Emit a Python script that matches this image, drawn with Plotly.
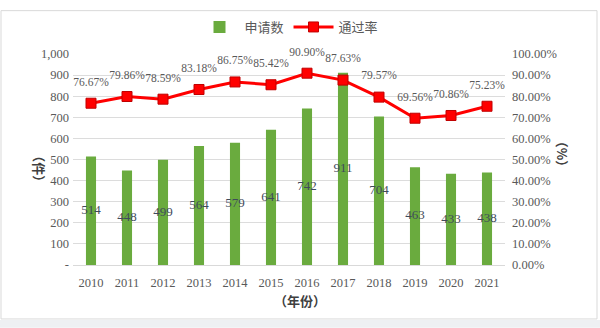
import plotly.graph_objects as go

years = ["2010", "2011", "2012", "2013", "2014", "2015", "2016", "2017", "2018", "2019", "2020", "2021"]
applications = [514, 448, 499, 564, 579, 641, 742, 911, 704, 463, 433, 438]
pass_rate = [76.67, 79.86, 78.59, 83.18, 86.75, 85.42, 90.90, 87.63, 79.57, 69.56, 70.86, 75.23]
left_ticks = [0, 100, 200, 300, 400, 500, 600, 700, 800, 900, 1000]
left_tick_text = ["-", "100", "200", "300", "400", "500", "600", "700", "800", "900", "1,000"]
right_ticks = [0, 10, 20, 30, 40, 50, 60, 70, 80, 90, 100]
right_tick_text = ["%.2f%%" % v for v in right_ticks]

SERIF = "Liberation Serif"
CJK = "Noto Sans CJK SC"
GRAY = "#595959"

fig = go.Figure()
fig.add_trace(go.Bar(
    x=years, y=applications, name="申请数",
    marker=dict(color="#6aab3e", line=dict(width=0)),
    yaxis="y", showlegend=True,
))
# value labels at bar centres
fig.add_trace(go.Scatter(
    x=years, y=[v / 2 for v in applications], mode="text",
    text=[str(v) for v in applications],
    textfont=dict(family=SERIF, size=13, color="#3f4b5b"),
    showlegend=False, hoverinfo="skip", yaxis="y", cliponaxis=False,
))
fig.add_trace(go.Scatter(
    x=years, y=pass_rate, name="通过率", yaxis="y2",
    mode="lines+markers",
    line=dict(color="#ff0000", width=3),
    marker=dict(symbol="square", size=10, color="#ff0000", line=dict(color="#c00000", width=1)),
    cliponaxis=False,
))
# rate labels: invisible large markers push the text upward
fig.add_trace(go.Scatter(
    x=years, y=pass_rate, yaxis="y2", mode="markers+text",
    marker=dict(size=22, color="rgba(0,0,0,0)"),
    text=["%.2f%%" % v for v in pass_rate], textposition="top center",
    textfont=dict(family=SERIF, size=11.5, color=GRAY),
    showlegend=False, hoverinfo="skip", cliponaxis=False,
))

fig.update_layout(
    width=600, height=328,
    margin=dict(l=73, r=95, t=46, b=63),
    paper_bgcolor="white", plot_bgcolor="white",
    bargap=0.72,
    font=dict(family=SERIF, size=12, color=GRAY),
    legend=dict(orientation="h", x=0.5, xanchor="center", y=1.128, yanchor="middle",
                font=dict(family=CJK, size=13, color=GRAY), itemwidth=40,
                bgcolor="rgba(0,0,0,0)"),
    xaxis=dict(type="category", range=[-0.5, len(years) - 0.5], showgrid=False,
               showline=True, linecolor="#d9d9d9",
               ticks="", tickfont=dict(family=SERIF, size=12.5, color=GRAY),
               ticklabelstandoff=6),
    yaxis=dict(range=[0, 1000], tickvals=left_ticks, ticktext=left_tick_text,
               showgrid=True, gridcolor="#dcdcdc", zeroline=False, ticks="",
               tickfont=dict(family=SERIF, size=12.5, color=GRAY), ticklabelstandoff=3),
    yaxis2=dict(range=[0, 100], overlaying="y", side="right", tickvals=right_ticks,
                ticktext=right_tick_text, showgrid=False, zeroline=False, ticks="",
                tickfont=dict(family=SERIF, size=12.5, color=GRAY), ticklabelstandoff=6),
)

# axis titles
fig.add_annotation(text="<b>（年份）</b>", xref="paper", yref="paper", x=0.525, y=(265 - 302) / 219,
                   showarrow=False, font=dict(family=CJK, size=13, color="#404040"),
                   yanchor="middle")
fig.add_annotation(text="<b>（件）</b>", xref="paper", yref="paper", x=(28 - 73) / 432, y=(265 - 165) / 219,
                   showarrow=False, textangle=90, font=dict(family=CJK, size=13, color="#404040"))
fig.add_annotation(text="<b>（%）</b>", xref="paper", yref="paper", x=(574 - 73) / 432, y=(265 - 150) / 219,
                   showarrow=False, textangle=90, font=dict(family=CJK, size=13, color="#404040"))

# outer frame and bottom strip
def px_x(p):
    return (p - 73) / 432

def px_y(p):
    return (265 - p) / 219

fig.add_shape(type="rect", xref="paper", yref="paper", x0=px_x(-2), x1=px_x(602),
              y0=px_y(330), y1=px_y(322), fillcolor="#eef0f3", line=dict(width=0), layer="below")
fig.add_shape(type="rect", xref="paper", yref="paper", x0=px_x(1), x1=px_x(597),
              y0=px_y(321), y1=px_y(1), line=dict(color="#d9d9d9", width=1), layer="below")

fig.write_html("out.html")
